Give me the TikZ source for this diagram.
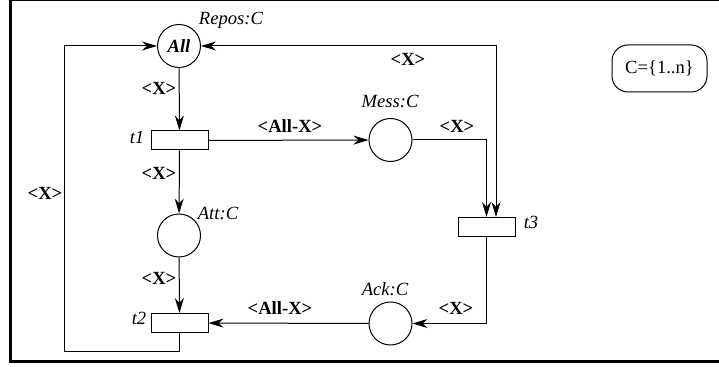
\documentclass[tikz,border=0pt]{standalone}
\usepackage{fontspec}
\setmainfont{Liberation Serif}
\usetikzlibrary{arrows.meta}
\newcommand{\sz}{\fontsize{9.3}{11}\selectfont}
\tikzstyle{place}=[circle, draw, line width=0.5pt, minimum size=21.5pt, inner sep=0pt, font=\sz\bfseries\itshape]
\tikzstyle{trans}=[rectangle, draw, line width=0.5pt, minimum width=28.5pt, minimum height=9.5pt, inner sep=0pt]
\tikzstyle{arc}=[-{Stealth[length=7.5pt, width=4.5pt]}, line width=0.5pt]
\tikzstyle{biarc}=[{Stealth[length=7.5pt, width=4.5pt]}-{Stealth[length=7.5pt, width=4.5pt]}, line width=0.5pt]
\tikzstyle{lbl}=[inner sep=0pt, font=\sz\itshape]
\tikzstyle{insc}=[inner sep=0pt, font=\sz\bfseries]

\begin{document}
\begin{tikzpicture}[x=0.5pt, y=-0.5pt]
            \useasboundingbox (0,0) rectangle (719,367);
            \draw[line width=0.5pt] (10,0.5) -- (719,0.5);
            \draw[line width=1.5pt] (10,0) -- (10,361.5) -- (719,361.5);
            \node[place] (repos) at (179,46) {All};
            \node[place] (mess) at (390.5,140) {};
            \node[place] (att) at (179,235.5) {};
            \node[place] (ack) at (390.5,323.5) {};
            \node[trans] (t1) at (179.5,140.5) {};
            \node[trans] (t2) at (179.5,323) {};
            \node[trans] (t3) at (486.5,227) {};
            \node[lbl] (lrepos) at (231,20) {Repos:C};
            \node[lbl] (lmess) at (390,101) {Mess:C};
            \node[lbl] (latt) at (218,213) {Att:C};
            \node[lbl] (lack) at (385,289) {Ack:C};
            \node[lbl] (lt1) at (137,137) {t1};
            \node[lbl] (lt2) at (139,318) {t2};
            \node[lbl] (lt3) at (531,222) {t3};
            \node[draw, rounded corners=8pt, line width=0.5pt, minimum width=47.5pt, minimum height=23.5pt, font=\sz] (decl) at (659.5,68.5) {C=\{1..n\}};
            \coordinate (lb) at (64,352);
            \draw[arc] (repos) -- (t1);
            \draw[arc] (t1) -- (att);
            \draw[arc] (att) -- (t2);
            \draw[arc] (t1) -- (mess);
            \draw[arc] (mess) -| (t3);
            \draw[biarc] (repos) -| ([xshift=4.75pt]t3.north);
            \draw[arc] (t3) |- (ack);
            \draw[arc] (ack) -- (t2);
            \draw[arc] (t2) |- (lb) |- (repos);
            \node[insc] (w1) at (159,88) {<X>};
            \node[insc] (w2) at (159,173) {<X>};
            \node[insc] (w3) at (159,278) {<X>};
            \node[insc] (w4) at (45,193) {<X>};
            \node[insc] (w5) at (408,59) {<X>};
            \node[insc] (w6) at (457,126) {<X>};
            \node[insc] (w7) at (456,308) {<X>};
            \node[insc] (w8) at (290,126) {<All-X>};
            \node[insc] (w9) at (280,308) {<All-X>};
        \end{tikzpicture}
\end{document}
